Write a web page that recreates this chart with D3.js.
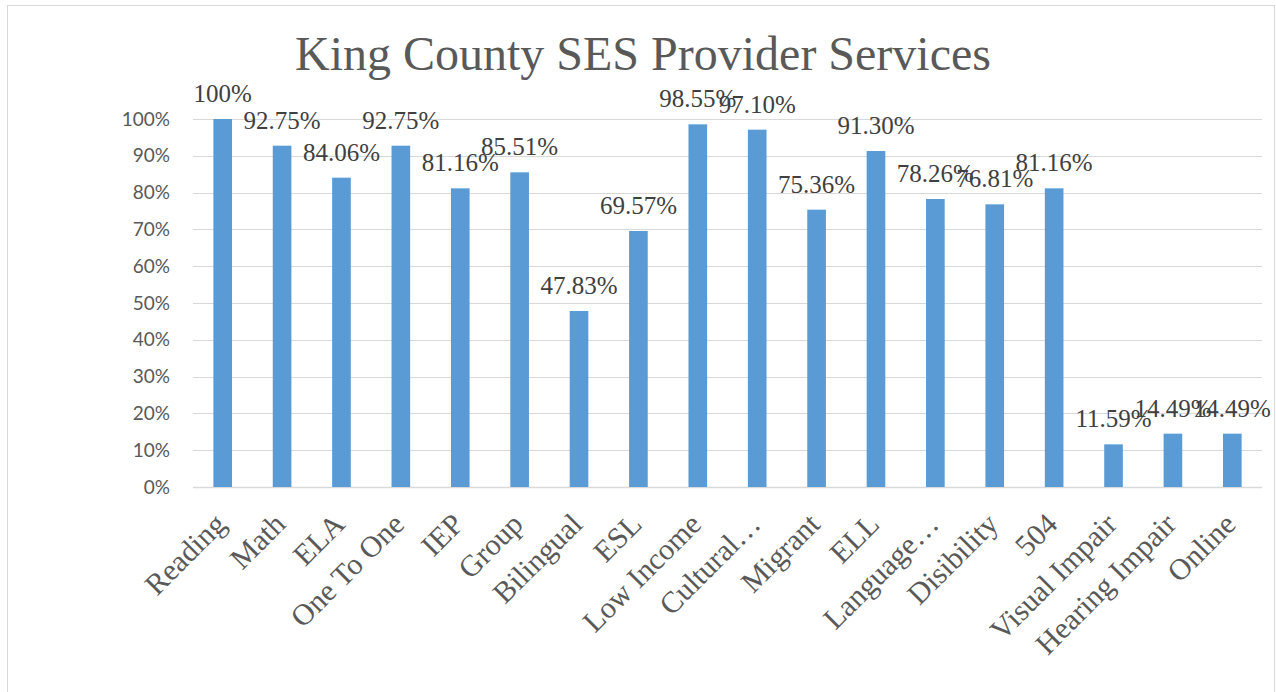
<!DOCTYPE html>
<html>
<head>
<meta charset="utf-8">
<script src="https://cdn.jsdelivr.net/npm/d3@7"></script>
<style>
  body { margin: 0; background: #fff; }
  svg { display: block; }
</style>
</head>
<body>
<div id="chart"></div>
<script>
// categorie e percentuali
const categorie = ['Reading', 'Math', 'ELA', 'One To One', 'IEP', 'Group', 'Bilingual', 'ESL',
    'Low Income', 'Cultural…', 'Migrant', 'ELL', 'Language…', 'Disibility', '504',
    'Visual Impair', 'Hearing Impair', 'Online'];
const valori = [100, 92.75, 84.06, 92.75, 81.16, 85.51, 47.83, 69.57, 98.55, 97.10,
    75.36, 91.30, 78.26, 76.81, 81.16, 11.59, 14.49, 14.49];
const etichette = ['100%', '92.75%', '84.06%', '92.75%', '81.16%', '85.51%', '47.83%', '69.57%',
    '98.55%', '97.10%', '75.36%', '91.30%', '78.26%', '76.81%', '81.16%', '11.59%', '14.49%', '14.49%'];
const yTicks = [0, 10, 20, 30, 40, 50, 60, 70, 80, 90, 100];

const width = 1276, height = 692;
const margin = { top: 119, right: 14, bottom: 205, left: 193 };
const w = width - margin.left - margin.right;
const h = height - margin.top - margin.bottom;

const svg = d3.select('#chart').append('svg')
    .attr('width', width)
    .attr('height', height);

// bordo del grafico
svg.append('rect')
    .attr('x', 7.5).attr('y', 5.5)
    .attr('width', 1267).attr('height', 700)
    .attr('fill', 'none')
    .attr('stroke', '#d9d9d9');

svg.append('text')
    .attr('x', 643).attr('y', 70)
    .attr('text-anchor', 'middle')
    .style('font-family', '"Liberation Serif", "Times New Roman", serif')
    .style('font-size', '48px')
    .style('fill', '#595959')
    .text('King County SES Provider Services');

const g = svg.append('g')
    .attr('transform', `translate(${margin.left},${margin.top})`);

const x = d3.scaleBand()
    .domain(categorie)
    .range([0, w])
    .paddingInner(0.686)
    .paddingOuter(0.343);

const y = d3.scaleLinear()
    .domain([0, 100])
    .range([h, 0]);

// griglia orizzontale
g.append('g')
    .selectAll('line')
    .data(yTicks)
    .join('line')
    .attr('x1', 0).attr('x2', w)
    .attr('y1', d => Math.round(y(d)) + 0.5)
    .attr('y2', d => Math.round(y(d)) + 0.5)
    .attr('stroke', '#d9d9d9')
    .attr('stroke-width', d => d === 0 ? 1.5 : 1);

// asse y (solo etichette)
const assey = g.append('g')
    .call(d3.axisLeft(y).tickValues(yTicks).tickFormat(d => d + '%').tickSize(0).tickPadding(23));
assey.select('.domain').remove();
assey.selectAll('text')
    .style('font-family', 'Lato, "Open Sans", sans-serif')
    .style('font-size', '19px')
    .style('fill', '#595959');

// barre
g.append('g')
    .selectAll('rect')
    .data(valori)
    .join('rect')
    .attr('x', (d, i) => x(categorie[i]))
    .attr('y', d => y(d))
    .attr('width', x.bandwidth())
    .attr('height', d => h - y(d))
    .attr('fill', '#5b9bd5');

// etichette dati
g.append('g')
    .selectAll('text')
    .data(valori)
    .join('text')
    .attr('x', (d, i) => x(categorie[i]) + x.bandwidth() / 2)
    .attr('y', d => y(d) - 17)
    .attr('text-anchor', 'middle')
    .style('font-family', '"Liberation Serif", "Times New Roman", serif')
    .style('font-size', '25px')
    .style('fill', '#404040')
    .text((d, i) => etichette[i]);

// etichette categorie ruotate
g.append('g')
    .selectAll('text')
    .data(categorie)
    .join('text')
    .attr('transform', d => `translate(${x(d) + x.bandwidth() / 2 + 5},${h + 39}) rotate(-45)`)
    .attr('text-anchor', 'end')
    .style('font-family', '"Liberation Serif", "Times New Roman", serif')
    .style('font-size', '30px')
    .style('fill', '#595959')
    .text(d => d);
</script>
</body>
</html>
